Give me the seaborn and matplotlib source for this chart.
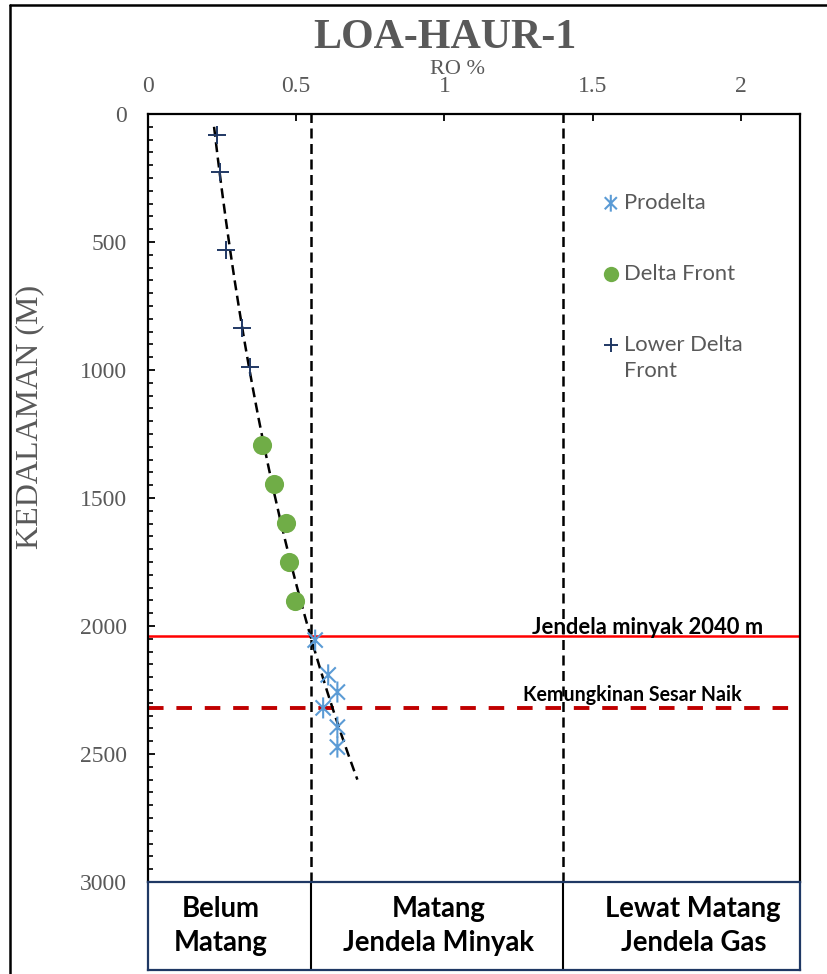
import numpy as np
import pandas as pd
import matplotlib
matplotlib.use("Agg")
import matplotlib.pyplot as plt
from matplotlib.path import Path
from matplotlib.markers import MarkerStyle
from matplotlib.lines import Line2D
from matplotlib.ticker import MultipleLocator
import seaborn as sns

# ---------------- data ----------------
TITLE = "LOA-HAUR-1"
X_LABEL = "RO %"
Y_LABEL = "KEDALAMAN (M)"

PRODELTA_RO = [0.564, 0.608, 0.639, 0.591, 0.639, 0.639]
PRODELTA_DEPTH = [2055, 2191, 2258, 2320, 2395, 2473]
DELTA_FRONT_RO = [0.385, 0.426, 0.466, 0.476, 0.497]
DELTA_FRONT_DEPTH = [1293, 1445, 1598, 1750, 1902]
LOWER_DF_RO = [0.233, 0.243, 0.264, 0.318, 0.345]
LOWER_DF_DEPTH = [82, 227, 531, 836, 988]
SERIES_LABELS = ["Prodelta", "Delta Front", "Lower Delta\nFront"]

X_TICKS = [0, 0.5, 1, 1.5, 2]
X_TICK_LABELS = ["0", "0.5", "1", "1.5", "2"]
Y_TICKS = [0, 500, 1000, 1500, 2000, 2500, 3000]
Y_TICK_LABELS = ["0", "500", "1000", "1500", "2000", "2500", "3000"]
X_MAX = 2.2
Y_MAX = 3000
MATURITY_BOUNDS = [0.55, 1.4]
ZONE_LABELS = ["Belum\nMatang", "Matang\nJendela Minyak", "Lewat Matang\nJendela Gas"]
ZONE_CENTERS = [0.245, 0.98, 1.84]
OIL_WINDOW_DEPTH = 2040
OIL_WINDOW_LABEL = "Jendela minyak 2040 m"
FAULT_DEPTH = 2320
FAULT_LABEL = "Kemungkinan Sesar Naik"
TREND_DEPTH_RANGE = [50, 2600]

# ---------------- style ----------------
W, H = 827, 974
GRAY = "#595959"
NAVY = "#1F3864"
C_PRO = "#5B9BD5"
C_DF = "#70AD47"
C_LDF = "#203864"

sns.set_style("white")
plt.rcParams["font.family"] = ["Liberation Serif", "DejaVu Serif"]


def px(x):
    return x / W


def py(y):
    return 1 - y / H


fig = plt.figure(figsize=(W / 100, H / 100), dpi=100)
ax = fig.add_axes([px(148), py(882), px(800) - px(148), py(114) - py(882)])
axb = fig.add_axes([px(148), py(970), px(800) - px(148), py(882) - py(970)])

# asterisk marker (vertical + X)
d = 0.72
star_path = Path(
    [(0, -1), (0, 1), (-d, -d), (d, d), (-d, d), (d, -d)],
    [Path.MOVETO, Path.LINETO, Path.MOVETO, Path.LINETO, Path.MOVETO, Path.LINETO],
)
star_marker = MarkerStyle(star_path, fillstyle="none")

df_pro = pd.DataFrame({"ro": PRODELTA_RO, "depth": PRODELTA_DEPTH})
df_df = pd.DataFrame({"ro": DELTA_FRONT_RO, "depth": DELTA_FRONT_DEPTH})
df_ldf = pd.DataFrame({"ro": LOWER_DF_RO, "depth": LOWER_DF_DEPTH})

# threshold / event lines
for xb in MATURITY_BOUNDS:
    ax.axvline(xb, color="black", lw=1.8, linestyle=(0, (4, 2.2)), zorder=1)
ax.axhline(OIL_WINDOW_DEPTH, color="#FF0000", lw=1.8, zorder=1)
ax.axhline(FAULT_DEPTH, color="#C00000", lw=2.8, linestyle=(0, (4.0, 3.3)), zorder=1)

# scatter series
sns.scatterplot(data=df_pro, x="ro", y="depth", ax=ax, marker=star_marker, s=230,
                color=C_PRO, linewidth=1.5, label=SERIES_LABELS[0], zorder=3)
sns.scatterplot(data=df_df, x="ro", y="depth", ax=ax, marker="o", s=190,
                color=C_DF, edgecolor=C_DF, linewidth=0, label=SERIES_LABELS[1], zorder=3)
sns.scatterplot(data=df_ldf, x="ro", y="depth", ax=ax, marker="+", s=170,
                color=C_LDF, linewidth=1.4, label=SERIES_LABELS[2], zorder=3)

# logarithmic trend line (depth = a ln(RO) + b)
all_ro = np.concatenate([LOWER_DF_RO, DELTA_FRONT_RO, PRODELTA_RO])
all_depth = np.concatenate([LOWER_DF_DEPTH, DELTA_FRONT_DEPTH, PRODELTA_DEPTH])
a, b = np.polyfit(np.log(all_ro), all_depth, 1)
depth_fit = np.linspace(TREND_DEPTH_RANGE[0], TREND_DEPTH_RANGE[1], 150)
ro_fit = np.exp((depth_fit - b) / a)
sns.lineplot(x=ro_fit, y=depth_fit, ax=ax, sort=False, estimator=None, color="black",
             lw=1.8, linestyle=(0, (4, 2.2)), zorder=2, legend=False)

# axes formatting
ax.set_xlim(0, X_MAX)
ax.set_ylim(Y_MAX, 0)
ax.xaxis.tick_top()
ax.set_xticks(X_TICKS)
ax.set_xticklabels(X_TICK_LABELS)
ax.set_yticks(Y_TICKS)
ax.set_yticklabels(Y_TICK_LABELS)
ax.yaxis.set_minor_locator(MultipleLocator(50))
ax.set_xlabel("")
ax.set_ylabel("")
ax.tick_params(axis="x", which="major", direction="in", length=5, width=1.3,
               color="black", labelcolor=GRAY, labelsize=17, pad=12, top=True, bottom=False)
ax.tick_params(axis="y", which="major", direction="in", length=5, width=1.3,
               color="black", labelcolor=GRAY, labelsize=17, pad=15, left=True, right=False)
ax.tick_params(axis="y", which="minor", direction="in", length=3.5, width=1.2,
               color="black", left=True, right=False)
for side in ["top", "left", "right"]:
    ax.spines[side].set_color("black")
    ax.spines[side].set_linewidth(1.6)
ax.spines["bottom"].set_visible(False)
ax.grid(False)

# bottom maturity box
axb.set_xlim(0, X_MAX)
axb.set_ylim(0, 1)
axb.set_xticks([])
axb.set_yticks([])
for s in axb.spines.values():
    s.set_color(NAVY)
    s.set_linewidth(1.6)
for xb in MATURITY_BOUNDS:
    axb.axvline(xb, color="black", lw=1.5)
zone_texts = []
for xc, lab in zip(ZONE_CENTERS, ZONE_LABELS):
    zone_texts.append(axb.text(xc, 0.5, lab, ha="center", va="center", family="Lato",
                               fontweight="bold", fontsize=16, color="black", linespacing=1.35))

# texts
title = fig.text(px(445), py(48), TITLE, ha="center", va="baseline", fontsize=30,
                 fontweight="bold", color=GRAY)
xlab = fig.text(px(458), py(74), X_LABEL, ha="center", va="baseline", fontsize=17, color=GRAY)
ylab = fig.text(px(30), py(417), Y_LABEL, ha="center", va="center", rotation=90,
                fontsize=23, color=GRAY)
t_oil = fig.text(px(532), py(634), OIL_WINDOW_LABEL, ha="left", va="baseline",
                 family="Lato", fontweight="bold", fontsize=14, color="black")
t_fault = fig.text(px(523), py(701), FAULT_LABEL, ha="left", va="baseline",
                   family="Lato", fontweight="bold", fontsize=12, color="black")

# outer frame
fig.add_artist(Line2D([px(10), px(10)], [0, py(5)], color="black", lw=1.8, transform=fig.transFigure))
fig.add_artist(Line2D([px(10), 1], [py(5), py(5)], color="black", lw=1.8, transform=fig.transFigure))

fig.canvas.draw()
r = fig.canvas.get_renderer()


def fit(t, target):
    w = t.get_window_extent(r).width
    t.set_fontsize(t.get_fontsize() * target / w)


fit(title, 264)
fit(xlab, 55)
fit(t_oil, 233)
fit(t_fault, 217)
fit(zone_texts[1], 192)
for zt in zone_texts:
    zt.set_fontsize(zone_texts[1].get_fontsize())

# legend font size from target width of "Prodelta"
tmp = fig.text(0, 0, SERIES_LABELS[0], family="Lato", fontsize=10)
fs = 10 * 82 / tmp.get_window_extent(r).width
tmp.remove()

handles, labels = ax.get_legend_handles_labels()
ls = 2.0
anchor = [px(600), py(185)]


def make_legend():
    lg = ax.legend(handles, labels, loc="upper left", bbox_to_anchor=tuple(anchor),
                   bbox_transform=fig.transFigure, frameon=False,
                   prop={"family": "Lato", "size": fs}, labelcolor=GRAY,
                   handlelength=0.6, handletextpad=0.3, labelspacing=ls,
                   borderpad=0, borderaxespad=0, markerscale=0.8)
    lg.get_texts()[2].set_linespacing(1.4)
    return lg


leg = make_legend()
fig.canvas.draw()
tb = [t.get_window_extent(r) for t in leg.get_texts()]
cur = (tb[0].y0 + tb[0].y1) / 2 - (tb[1].y0 + tb[1].y1) / 2
ls = ls + (71 - cur) / (fs * 100 / 72)
leg.remove()
leg = make_legend()
fig.canvas.draw()
tb0 = leg.get_texts()[0].get_window_extent(r)
dx = 624 - tb0.x0
dy = (H - 203) - (tb0.y0 + tb0.y1) / 2
anchor = [anchor[0] + dx / W, anchor[1] + dy / H]
leg.remove()
leg = make_legend()

# align the "Lower Delta Front" marker with the first line of its label (shift up ~15 px)
h3 = leg.legend_handles[2]
offs = np.asarray(h3.get_offsets(), dtype=float).copy()
offs[:, 1] += 15 * 72 / 100
h3.set_offsets(offs)

fig.savefig("out.png", dpi=100)
